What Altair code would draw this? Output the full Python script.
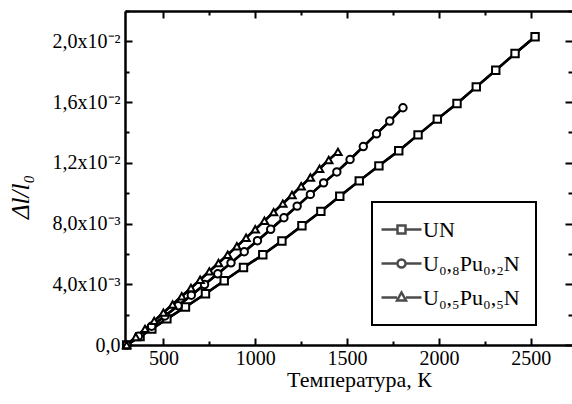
import altair as alt
import pandas as pd

FONT = "Liberation Serif"

SERIES = ["UN", "U₀,₈Pu₀,₂N", "U₀,₅Pu₀,₅N"]

UN_T = [300, 373, 437, 519, 620, 729, 831, 936, 1041, 1145, 1254, 1357, 1460,
        1566, 1673, 1781, 1886, 1991, 2098, 2203, 2309, 2414, 2523]
UN_V = [0.0, 0.00055, 0.00105, 0.00172, 0.00250, 0.00338, 0.00423, 0.00510,
        0.00594, 0.00685, 0.00785, 0.00880, 0.00980, 0.01081, 0.01180, 0.01280,
        0.01384, 0.01488, 0.01591, 0.01700, 0.01810, 0.01920, 0.02030]

PU2_T = [300, 364, 436, 508, 580, 652, 724, 796, 868, 940, 1012, 1084, 1156,
         1228, 1300, 1372, 1444, 1516, 1588, 1660, 1732, 1804]
PU2_V = [0.0, 0.00058, 0.00124, 0.00191, 0.00259, 0.00328, 0.00398, 0.00469,
         0.00541, 0.00614, 0.00687, 0.00762, 0.00838, 0.00915, 0.00992, 0.01068,
         0.01140, 0.01222, 0.01307, 0.01391, 0.01475, 0.01563]

PU5_T = [300, 350, 400, 450, 500, 550, 600, 650, 700, 750, 800, 850, 900, 950,
         1000, 1050, 1100, 1150, 1200, 1250, 1300, 1350, 1400, 1450]
PU5_V = [0.0, 0.00053, 0.00106, 0.00159, 0.00213, 0.00267, 0.00321, 0.00375,
         0.00430, 0.00485, 0.00540, 0.00595, 0.00650, 0.00706, 0.00762, 0.00818,
         0.00875, 0.00931, 0.00988, 0.01046, 0.01103, 0.01161, 0.01219, 0.01272]

X_LABEL_VALUES = [500, 1000, 1500, 2000, 2500]
X_TICK_VALUES = [500, 750, 1000, 1250, 1500, 1750, 2000, 2250, 2500]
Y_LABEL_VALUES = [0.0, 0.004, 0.008, 0.012, 0.016, 0.020]
Y_LABELS = ["0,0", "4,0x10⁻³", "8,0x10⁻³", "1,2x10⁻²", "1,6x10⁻²", "2,0x10⁻²"]
Y_TICK_VALUES = [0.0, 0.002, 0.004, 0.006, 0.008, 0.010, 0.012, 0.014, 0.016,
                 0.018, 0.020, 0.022]

X_TITLE = "Температура, К"
Y_TITLE = "Δl/l₀"

rows = []
for name, ts, vs in zip(SERIES, [UN_T, PU2_T, PU5_T], [UN_V, PU2_V, PU5_V]):
    for t, v in zip(ts, vs):
        rows.append({"T": t, "dl": v, "series": name})
df = pd.DataFrame(rows)

W, H = 447, 334

xscale = alt.Scale(domain=[291, 2724], nice=False, zero=False)
yscale = alt.Scale(domain=[0, 0.022], nice=False, zero=False)

label_expr = " : ".join(
    f"abs(datum.value - {v}) < 1e-6 ? '{lab}'" for v, lab in zip(Y_LABEL_VALUES, Y_LABELS)
) + " : ''"

x_major = {"condition": {"test": "datum.value % 500 === 0", "value": 7}, "value": 4}
y_major = {"condition": {"test": "abs(datum.value*250 - round(datum.value*250)) < 0.001",
                         "value": 7}, "value": 4}

tick_common = dict(labels=False, grid=False, title="", tickColor="black", tickWidth=2)

x_label_axis = alt.Axis(
    orient="bottom", values=X_LABEL_VALUES, ticks=False, tickSize=0, grid=False,
    domain=True, domainColor="black", domainWidth=2.5,
    labelFont=FONT, labelFontSize=20, labelColor="black", labelPadding=3,
    labelFlush=False, labelOverlap=False, format="d",
    title=X_TITLE, titleFont=FONT, titleFontSize=22, titleFontWeight="normal",
    titleColor="black", titleX=234, titleY=41, titleBaseline="alphabetic",
    titleAlign="center",
)
y_label_axis = alt.Axis(
    orient="left", values=Y_LABEL_VALUES, ticks=False, tickSize=0, grid=False,
    domain=True, domainColor="black", domainWidth=2.5,
    labelFont=FONT, labelFontSize=20, labelColor="black", labelPadding=5,
    labelExpr=label_expr, labelOverlap=False, labelFlush=False, title="",
)
x_ticks_bottom = alt.Axis(orient="top", offset=-H, values=X_TICK_VALUES,
                          tickSize=x_major, domain=False, **tick_common)
x_ticks_top = alt.Axis(orient="bottom", offset=-H, values=X_TICK_VALUES,
                       tickSize=x_major, domain=True, domainColor="black",
                       domainWidth=2.5, **tick_common)
y_ticks_left = alt.Axis(orient="right", offset=-W, values=Y_TICK_VALUES,
                        tickSize=y_major, domain=False, **tick_common)
y_ticks_right = alt.Axis(orient="left", offset=-W, values=Y_TICK_VALUES,
                         tickSize=y_major, domain=False, **tick_common)

lines = alt.Chart(df).mark_line(color="black", strokeWidth=2.5).encode(
    x=alt.X("T:Q", scale=xscale, axis=x_label_axis),
    y=alt.Y("dl:Q", scale=yscale, axis=y_label_axis),
    detail="series:N",
)
frame = alt.Chart(df).mark_line(color="black", strokeWidth=2.5).encode(
    x=alt.X("T:Q", scale=xscale, axis=x_ticks_top),
    y=alt.Y("dl:Q", scale=yscale, axis=y_ticks_right),
    detail="series:N",
)
points = alt.Chart(df).mark_point(
    filled=True, fill="white", stroke="black", strokeWidth=2, size=55, opacity=1
).encode(
    x=alt.X("T:Q", scale=xscale, axis=x_ticks_bottom),
    y=alt.Y("dl:Q", scale=yscale, axis=y_ticks_left),
    shape=alt.Shape("series:N",
                    scale=alt.Scale(domain=SERIES, range=["square", "circle", "triangle-up"]),
                    legend=None),
)

# y-axis title as rotated text
y_title = alt.Chart(pd.DataFrame({"t": [Y_TITLE]})).mark_text(
    angle=270, font=FONT, fontSize=25, fontStyle="italic", color="black",
    align="center", baseline="middle",
).encode(x=alt.value(-104), y=alt.value(186), text="t:N")

LEGEND_PATHS = [
    "M-2,0H-0.4M0.4,0H2M-0.4,-0.4H0.4V0.4H-0.4Z",
    "M-2,0H-0.4M0.4,0H2M-0.4,0A0.4,0.4 0 1,0 0.4,0A0.4,0.4 0 1,0 -0.4,0Z",
    "M-2,0H-0.45M0.45,0H2M-0.45,0.3L0,-0.5L0.45,0.3Z",
]
legend_layer = alt.Chart(pd.DataFrame({"series": SERIES})).mark_point(
    filled=False, color="black", strokeWidth=2.5
).encode(
    x=alt.value(-400), y=alt.value(-400),
    shape=alt.Shape("series:N",
                    scale=alt.Scale(domain=SERIES, range=LEGEND_PATHS),
                    legend=alt.Legend(
                        orient="none", legendX=247, legendY=191, title=None,
                        padding=16, strokeColor="black", fillColor="white",
                        labelFont=FONT, labelFontSize=22, labelColor="black",
                        labelLimit=400, labelOffset=10, rowPadding=11,
                        symbolSize=400, symbolOffset=2, symbolStrokeWidth=2.5,
                        symbolStrokeColor="black", symbolFillColor="white",
                    )),
)

chart = alt.layer(lines, frame, points, y_title, legend_layer).resolve_axis(
    x="independent", y="independent"
).resolve_scale(shape="independent").properties(
    width=W, height=H,
    padding={"left": 125, "top": 11, "right": 0, "bottom": 59},
    autosize=alt.AutoSizeParams(type="none"),
    background="white",
).configure_view(stroke="transparent").configure_legend(strokeWidth=2).configure_axis(
    labelFont=FONT, titleFont=FONT
)

chart.save("out.html", embed_options={"renderer": "svg", "actions": False})
